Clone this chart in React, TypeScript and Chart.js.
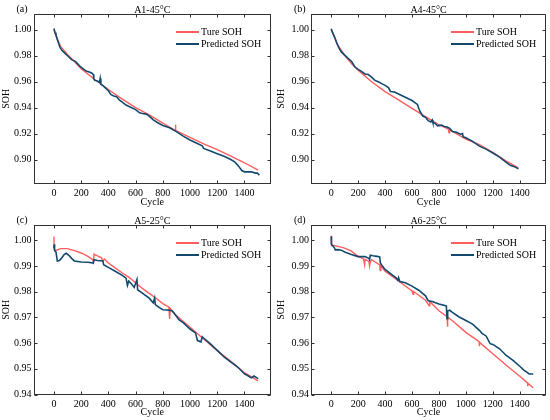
import { useEffect, useRef } from "react"
import { Chart, registerables } from "chart.js"

Chart.register(...registerables)

const FONT = "'Liberation Serif', 'Times New Roman', serif"
const RED = "#ff5e5e"
const BLUE = "#124a6f"
const W = 275
const H = 210

const xTicks = [0, 200, 400, 600, 800, 1000, 1200, 1400]
const yTicksTop = [0.9, 0.92, 0.94, 0.96, 0.98, 1.0]
const yTicksBottom = [0.94, 0.95, 0.96, 0.97, 0.98, 0.99, 1.0]
const legendLabels = ["Ture SOH", "Predicted SOH"]
const legendColors = [RED, BLUE]

// A1-45°C
const a1TrueCycles = [0, 10, 25, 50, 100, 150, 200, 300, 400, 500, 600, 700, 800, 890, 893, 896, 900, 1000, 1100, 1200, 1300, 1400, 1500]
const a1TrueSoh = [1.0, 0.997, 0.993, 0.987, 0.981, 0.9755, 0.97, 0.9617, 0.954, 0.9467, 0.94, 0.9344, 0.928, 0.9225, 0.9268, 0.9222, 0.922, 0.917, 0.912, 0.9077, 0.9026, 0.8975, 0.8918]
const a1PredCycles = [0, 8, 15, 25, 35, 45, 60, 80, 100, 130, 160, 190, 220, 240, 260, 280, 290, 293, 300, 320, 335, 340, 345, 360, 380, 400, 420, 440, 460, 480, 500, 530, 560, 600, 630, 650, 680, 700, 730, 760, 800, 850, 900, 950, 1000, 1050, 1090, 1100, 1150, 1200, 1250, 1300, 1330, 1360, 1380, 1400, 1450, 1480, 1495, 1510]
const a1PredSoh = [1.001, 0.998, 0.996, 0.9925, 0.9895, 0.9865, 0.984, 0.982, 0.98, 0.977, 0.9755, 0.972, 0.9695, 0.968, 0.9675, 0.9665, 0.9655, 0.9622, 0.961, 0.9605, 0.9595, 0.9625, 0.958, 0.957, 0.955, 0.953, 0.95, 0.949, 0.9485, 0.946, 0.9445, 0.942, 0.9405, 0.9385, 0.936, 0.9355, 0.935, 0.9335, 0.9305, 0.9285, 0.9262, 0.9245, 0.9215, 0.918, 0.915, 0.9125, 0.9105, 0.9085, 0.9065, 0.9045, 0.9025, 0.9, 0.898, 0.8945, 0.8915, 0.8905, 0.8905, 0.8895, 0.8895, 0.888]

// A4-45°C
const a4TrueCycles = [0, 25, 50, 100, 150, 200, 300, 400, 500, 600, 700, 800, 870, 875, 880, 900, 1000, 1100, 1200, 1300, 1390]
const a4TrueSoh = [1.0, 0.9944, 0.988, 0.9804, 0.974, 0.9689, 0.96, 0.9523, 0.946, 0.9395, 0.933, 0.9268, 0.9235, 0.9205, 0.9232, 0.9217, 0.9158, 0.9115, 0.9056, 0.8987, 0.8936]
const a4PredCycles = [0, 10, 25, 40, 60, 75, 100, 125, 150, 175, 200, 225, 250, 275, 300, 325, 350, 375, 400, 425, 440, 470, 500, 550, 600, 640, 650, 660, 680, 700, 720, 740, 750, 755, 770, 790, 820, 840, 860, 880, 900, 930, 960, 975, 980, 1000, 1050, 1100, 1150, 1200, 1250, 1300, 1330, 1360, 1390]
const a4PredSoh = [1.0008, 0.998, 0.9944, 0.99, 0.9855, 0.983, 0.9805, 0.978, 0.9758, 0.9715, 0.9695, 0.968, 0.966, 0.9655, 0.9635, 0.961, 0.96, 0.9585, 0.9572, 0.9555, 0.9525, 0.952, 0.9505, 0.948, 0.9455, 0.9425, 0.9395, 0.937, 0.9335, 0.9325, 0.93, 0.929, 0.9305, 0.9285, 0.928, 0.926, 0.9265, 0.9255, 0.925, 0.924, 0.9215, 0.921, 0.9195, 0.92, 0.9175, 0.9168, 0.914, 0.9103, 0.908, 0.905, 0.9018, 0.8978, 0.8955, 0.8945, 0.8928]

// A5-25°C
const a5TrueCycles = [0, 2, 10, 50, 100, 150, 200, 250, 285, 290, 295, 300, 350, 360, 365, 370, 400, 450, 500, 550, 600, 650, 700, 750, 800, 840, 845, 850, 855, 900, 1000, 1100, 1200, 1300, 1400, 1500]
const a5TrueSoh = [1.0015, 0.9965, 0.996, 0.9968, 0.9968, 0.996, 0.9951, 0.9938, 0.9925, 0.9917, 0.9947, 0.9945, 0.9932, 0.992, 0.9922, 0.9928, 0.9912, 0.9893, 0.9874, 0.9857, 0.9835, 0.9813, 0.9794, 0.9775, 0.9754, 0.9742, 0.9738, 0.9694, 0.9735, 0.9707, 0.9662, 0.9616, 0.9571, 0.9529, 0.9485, 0.9453]
const a5PredCycles = [0, 2, 5, 15, 25, 40, 55, 75, 90, 110, 130, 150, 200, 250, 290, 295, 320, 360, 365, 400, 450, 500, 530, 540, 550, 570, 590, 610, 615, 650, 700, 730, 740, 745, 770, 800, 850, 870, 900, 920, 950, 1000, 1040, 1055, 1080, 1090, 1100, 1150, 1200, 1250, 1300, 1350, 1400, 1420, 1450, 1470, 1500]
const a5PredSoh = [0.997, 0.9985, 0.996, 0.9955, 0.992, 0.9922, 0.993, 0.9945, 0.995, 0.9942, 0.993, 0.992, 0.9916, 0.9915, 0.9912, 0.9925, 0.9922, 0.992, 0.9905, 0.9895, 0.988, 0.9865, 0.9853, 0.9825, 0.9842, 0.983, 0.9817, 0.9848, 0.9808, 0.9795, 0.9775, 0.9757, 0.9775, 0.975, 0.974, 0.973, 0.9728, 0.9725, 0.9705, 0.969, 0.968, 0.9655, 0.964, 0.961, 0.9605, 0.9625, 0.962, 0.9597, 0.9572, 0.9546, 0.9526, 0.9507, 0.948, 0.9475, 0.9465, 0.9472, 0.9462]

// A6-25°C
const a6TrueCycles = [0, 2, 20, 50, 100, 150, 200, 240, 248, 252, 280, 285, 290, 300, 360, 364, 368, 400, 500, 600, 608, 612, 700, 728, 732, 800, 860, 863, 866, 900, 1000, 1098, 1100, 1102, 1200, 1300, 1400, 1458, 1460, 1462, 1500]
const a6TrueSoh = [1.0018, 0.998, 0.998, 0.9977, 0.997, 0.9958, 0.9938, 0.9928, 0.9905, 0.9926, 0.9918, 0.99, 0.9915, 0.9925, 0.9905, 0.9883, 0.9902, 0.988, 0.9842, 0.9803, 0.979, 0.9801, 0.9767, 0.9745, 0.9762, 0.9726, 0.9703, 0.9664, 0.9701, 0.9687, 0.9642, 0.9606, 0.9588, 0.9603, 0.9559, 0.9514, 0.9471, 0.9445, 0.9432, 0.9443, 0.9426]
const a6PredCycles = [0, 2, 10, 25, 30, 50, 75, 100, 150, 200, 250, 280, 285, 290, 310, 340, 360, 365, 380, 400, 450, 480, 495, 500, 510, 550, 600, 650, 700, 720, 750, 800, 855, 860, 865, 880, 900, 950, 1000, 1050, 1100, 1120, 1150, 1180, 1200, 1250, 1300, 1350, 1400, 1430, 1450, 1470, 1500]
const a6PredSoh = [1.0015, 0.9985, 0.998, 0.997, 0.9963, 0.9964, 0.9962, 0.9955, 0.9945, 0.9937, 0.9937, 0.993, 0.9925, 0.9942, 0.994, 0.9938, 0.9936, 0.9912, 0.99, 0.9887, 0.9867, 0.9855, 0.9845, 0.9855, 0.984, 0.9835, 0.9822, 0.9806, 0.9784, 0.9765, 0.9762, 0.9752, 0.9745, 0.9695, 0.9725, 0.9728, 0.972, 0.9702, 0.9688, 0.9674, 0.965, 0.9638, 0.9628, 0.9598, 0.9595, 0.9578, 0.9552, 0.9533, 0.951, 0.9495, 0.9488, 0.948, 0.948]

// frame, inward ticks, title, tag and inner legend
const decorPlugin = {
  id: "panelDecor",
  afterDraw(chart: any, _args: any, opts: any) {
    const { ctx, chartArea: a, scales } = chart
    ctx.save()
    ctx.strokeStyle = "#333"
    ctx.lineWidth = 1
    const l = Math.round(a.left) + 0.5
    const t = Math.round(a.top) + 0.5
    const r = Math.round(a.right) - 0.5
    const b = Math.round(a.bottom) - 0.5
    ctx.strokeRect(l, t, r - l, b - t)
    ctx.beginPath()
    for (const tk of scales.x.ticks) {
      const px = Math.round(scales.x.getPixelForValue(tk.value)) + 0.5
      ctx.moveTo(px, b)
      ctx.lineTo(px, b - 3)
      ctx.moveTo(px, t)
      ctx.lineTo(px, t + 3)
    }
    for (const tk of scales.y.ticks) {
      const py = Math.round(scales.y.getPixelForValue(tk.value)) + 0.5
      ctx.moveTo(l, py)
      ctx.lineTo(l + 3, py)
      ctx.moveTo(r, py)
      ctx.lineTo(r - 3, py)
    }
    ctx.stroke()

    ctx.fillStyle = "#000"
    ctx.font = `10px ${FONT}`
    ctx.textBaseline = "middle"
    ctx.textAlign = "center"
    ctx.fillText(opts.title, (a.left + a.right) / 2, a.top - 4)
    ctx.textAlign = "left"
    ctx.fillText(opts.tag, a.left - 17, a.top - 5)

    const lx = a.right - 95
    legendColors.forEach((col, i) => {
      const y = a.top + 18 + i * 12
      ctx.strokeStyle = col
      ctx.lineWidth = 2
      ctx.beginPath()
      ctx.moveTo(lx, y)
      ctx.lineTo(lx + 23, y)
      ctx.stroke()
      ctx.fillText(legendLabels[i], lx + 25, y + 0.5)
    })
    ctx.restore()
  },
}

interface Area {
  left: number
  top: number
  right: number
  bottom: number
}

interface PanelProps {
  tag: string
  title: string
  trueCycles: number[]
  trueSoh: number[]
  predCycles: number[]
  predSoh: number[]
  yMin: number
  yMax: number
  yTicks: number[]
  area: Area
  x: number
  y: number
}

function Panel(props: PanelProps) {
  const canvasRef = useRef<HTMLCanvasElement>(null)

  useEffect(() => {
    if (!canvasRef.current) return
    const { area } = props
    const font = { family: FONT, size: 10 }

    const chart = new Chart(canvasRef.current, {
      type: "line",
      data: {
        datasets: [
          {
            label: legendLabels[0],
            data: props.trueCycles.map((c, i) => ({ x: c, y: props.trueSoh[i] })),
            borderColor: RED,
            borderWidth: 1.4,
            pointRadius: 0,
            order: 1,
          },
          {
            label: legendLabels[1],
            data: props.predCycles.map((c, i) => ({ x: c, y: props.predSoh[i] })),
            borderColor: BLUE,
            borderWidth: 1.6,
            pointRadius: 0,
            order: 0,
          },
        ],
      },
      options: {
        responsive: false,
        animation: false,
        layout: { padding: { top: area.top, right: W - area.right, left: 0, bottom: 0 } },
        plugins: {
          legend: { display: false },
          tooltip: { enabled: false },
          panelDecor: { tag: props.tag, title: props.title },
        } as any,
        scales: {
          x: {
            type: "linear",
            min: -150,
            max: 1595,
            grid: { display: false, drawTicks: false },
            border: { display: false },
            afterBuildTicks: (s: any) => {
              s.ticks = xTicks.map((v) => ({ value: v }))
            },
            afterFit: (s: any) => {
              s.height = H - area.bottom
            },
            ticks: { font, color: "#000", padding: 4, maxRotation: 0, autoSkip: false, callback: (v: any) => String(v) },
            title: { display: true, text: "Cycle", font, color: "#000", padding: { top: 0, bottom: 2 } },
          },
          y: {
            type: "linear",
            min: props.yMin,
            max: props.yMax,
            grid: { display: false, drawTicks: false },
            border: { display: false },
            afterBuildTicks: (s: any) => {
              s.ticks = props.yTicks.map((v) => ({ value: v }))
            },
            afterFit: (s: any) => {
              s.width = area.left
            },
            ticks: { font, color: "#000", padding: 2, autoSkip: false, callback: (v: any) => Number(v).toFixed(2) },
            title: { display: true, text: "SOH", font, color: "#000", padding: { top: 0, bottom: 0 } },
          },
        },
      } as any,
      plugins: [decorPlugin],
    })

    return () => chart.destroy()
  }, [])

  return (
    <canvas
      ref={canvasRef}
      width={W}
      height={H}
      style={{ position: "absolute", left: props.x, top: props.y, width: W, height: H }}
    />
  )
}

export default function App() {
  const areaTopLeft = { left: 33.5, top: 14, right: 271, bottom: 183.5 }
  const areaTopRight = { left: 36, top: 14, right: 271, bottom: 183.5 }
  const areaBottomLeft = { left: 33.5, top: 15, right: 271, bottom: 184.5 }
  const areaBottomRight = { left: 36, top: 15, right: 271, bottom: 184.5 }

  return (
    <div style={{ position: "absolute", left: 0, top: 0, width: 550, height: 420, background: "#fff" }}>
      <Panel tag="(a)" title="A1-45°C" trueCycles={a1TrueCycles} trueSoh={a1TrueSoh} predCycles={a1PredCycles} predSoh={a1PredSoh}
        yMin={0.8815} yMax={1.0122} yTicks={yTicksTop} area={areaTopLeft} x={0} y={0} />
      <Panel tag="(b)" title="A4-45°C" trueCycles={a4TrueCycles} trueSoh={a4TrueSoh} predCycles={a4PredCycles} predSoh={a4PredSoh}
        yMin={0.8815} yMax={1.0122} yTicks={yTicksTop} area={areaTopRight} x={275} y={0} />
      <Panel tag="(c)" title="A5-25°C" trueCycles={a5TrueCycles} trueSoh={a5TrueSoh} predCycles={a5PredCycles} predSoh={a5PredSoh}
        yMin={0.94} yMax={1.006} yTicks={yTicksBottom} area={areaBottomLeft} x={0} y={210} />
      <Panel tag="(d)" title="A6-25°C" trueCycles={a6TrueCycles} trueSoh={a6TrueSoh} predCycles={a6PredCycles} predSoh={a6PredSoh}
        yMin={0.94} yMax={1.006} yTicks={yTicksBottom} area={areaBottomRight} x={275} y={210} />
    </div>
  )
}
